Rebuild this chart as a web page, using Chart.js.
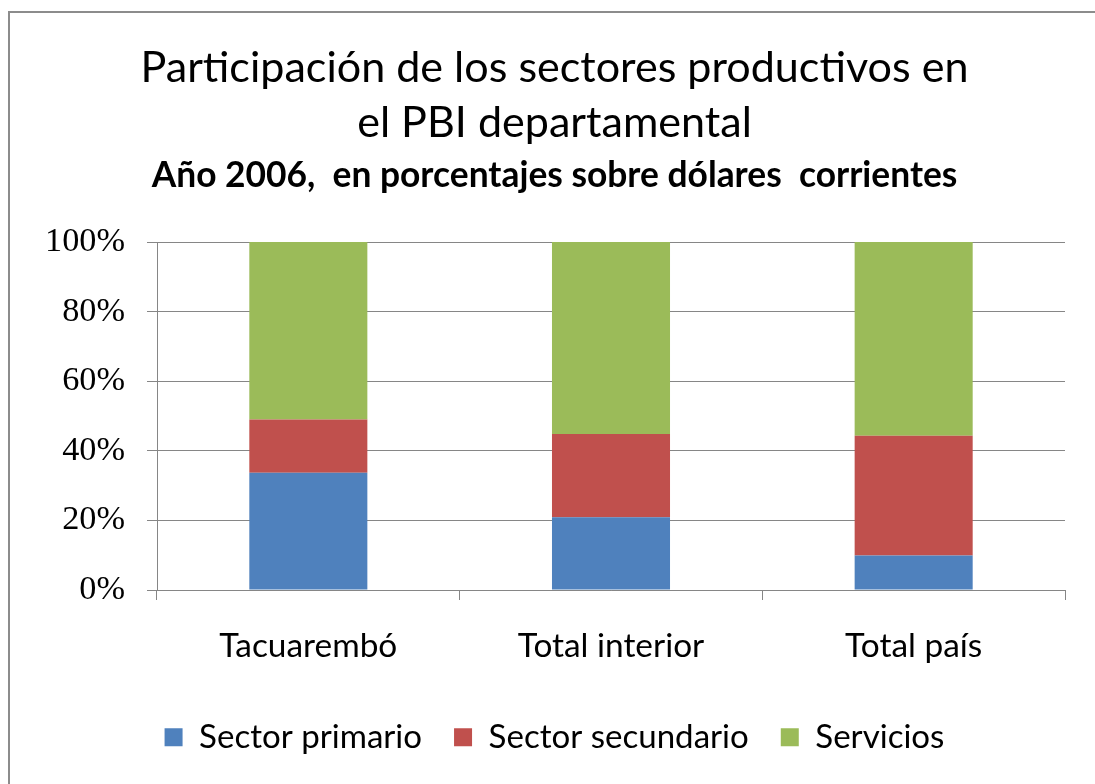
<!DOCTYPE html>
<html>
<head>
<meta charset="utf-8">
<script src="https://cdn.jsdelivr.net/npm/chart.js@4.4.1/dist/chart.umd.min.js"></script>
<style>
  html, body { margin: 0; padding: 0; background: #ffffff; }
  canvas { display: block; }
</style>
</head>
<body>
<canvas id="c" width="1095" height="784"></canvas>
<script>
// ---- data ----
const categories = ['Tacuarembó', 'Total interior', 'Total país'];
const seriesNames = ['Sector primario', 'Sector secundario', 'Servicios'];
const primario = [33.7, 20.9, 9.9];
const secundario = [15.3, 23.9, 34.4];
const servicios = [51.0, 55.2, 55.7];
const yTicks = [0, 20, 40, 60, 80, 100];
const titleLines = ['Participación de los sectores productivos en', 'el PBI departamental'];
const subtitleText = 'Año 2006,  en porcentajes sobre dólares  corrientes';

// ---- styling helpers ----
const FAM = 'Lato, "Open Sans", sans-serif';
const SERIF = '"Liberation Serif", "DejaVu Serif", serif';
const mctx = document.createElement('canvas').getContext('2d');
function fitSize(text, weight, family, target) {
  mctx.font = weight + ' 100px ' + family;
  return 100 * target / mctx.measureText(text).width;
}
function baseOff(size, weight, family) {
  mctx.font = weight + ' ' + size + 'px ' + family;
  mctx.textBaseline = 'middle';
  return mctx.measureText('H').actualBoundingBoxDescent;
}

const PLOT_TOP = 242, PLOT_BOTTOM = 590, PLOT_LEFT = 157, LAYOUT_LEFT = 14, RIGHT_GAP = 30;

// title
const titleSize = fitSize(titleLines[0], 'normal', FAM, 828);
const titleLH = 55;
const titleOff = baseOff(titleSize, 'normal', FAM);
const titlePadTop = (82 - titleOff) - titleLH / 2;
// subtitle
const subSize = fitSize(subtitleText, 'bold', FAM, 806);
const subLH = subSize * 1.2;
const subOff = baseOff(subSize, 'bold', FAM);
const subTop = (187 - subOff) - subLH / 2;
const titlePadBottom = subTop - (titlePadTop + 2 * titleLH);
const subPadBottom = PLOT_TOP - (subTop + subLH);
// legend
const legSize = fitSize('Sector primario', 'normal', FAM, 223);
const legPad = 32;
const legOff = baseOff(legSize, 'normal', FAM);
const legTop = (748 - legOff) - legPad - legSize / 2;
const legH = legSize + legPad + 10;
const layoutBottom = 784 - (legTop + legH);
// x labels
const xSize = fitSize('Tacuarembó', 'normal', FAM, 178);
const xOff = baseOff(xSize, 'normal', FAM);
const xPad = (657 - xOff) - PLOT_BOTTOM - 10 - xSize * 1.2 / 2;
const xAxisHeight = legTop - PLOT_BOTTOM;
// y labels
const ySize = fitSize('100%', 'normal', SERIF, 80);

const GRID = '#868686';

const framePlugin = {
  id: 'frame',
  beforeDraw(chart) {
    const ctx = chart.ctx;
    ctx.save();
    ctx.fillStyle = '#ffffff';
    ctx.fillRect(0, 0, chart.width, chart.height);
    ctx.strokeStyle = '#8c8c8c';
    ctx.lineWidth = 2;
    ctx.beginPath();
    ctx.moveTo(9, chart.height);
    ctx.lineTo(9, 12);
    ctx.lineTo(chart.width, 12);
    ctx.stroke();
    ctx.restore();
  }
};

new Chart(document.getElementById('c'), {
  type: 'bar',
  data: {
    labels: categories,
    datasets: [
      { label: seriesNames[0], data: primario, backgroundColor: '#4F81BD' },
      { label: seriesNames[1], data: secundario, backgroundColor: '#C0504D' },
      { label: seriesNames[2], data: servicios, backgroundColor: '#9BBB59' }
    ]
  },
  options: {
    responsive: false,
    animation: false,
    devicePixelRatio: 1,
    datasets: { bar: { categoryPercentage: 1.0, barPercentage: 0.39, borderWidth: 0 } },
    layout: { padding: { top: 0, left: LAYOUT_LEFT, right: 0, bottom: layoutBottom } },
    scales: {
      x: {
        stacked: true,
        grid: { display: true, drawOnChartArea: false, drawTicks: true, tickLength: 10, offset: true, color: GRID, lineWidth: 1 },
        border: { display: true, color: GRID, width: 1 },
        ticks: { color: '#000000', font: { family: FAM, size: xSize }, padding: xPad, maxRotation: 0, autoSkip: false },
        afterFit(scale) { scale.height = xAxisHeight; }
      },
      y: {
        stacked: true,
        min: 0, max: 100,
        afterBuildTicks(scale) { scale.ticks = yTicks.map(v => ({ value: v })); },
        grid: { color: GRID, lineWidth: 1, tickLength: 10, drawTicks: true },
        border: { display: true, color: GRID, width: 1 },
        ticks: { color: '#000000', font: { family: SERIF, size: ySize }, padding: 22, callback: v => v + '%' },
        afterFit(scale) { scale.width = PLOT_LEFT - LAYOUT_LEFT; }
      },
      yr: {
        position: 'right',
        display: true,
        grid: { display: false, drawTicks: false },
        border: { display: false },
        ticks: { display: false },
        afterFit(scale) { scale.width = RIGHT_GAP; }
      }
    },
    plugins: {
      title: {
        display: true,
        text: titleLines,
        color: '#000000',
        font: { family: FAM, size: titleSize, weight: 'normal', lineHeight: titleLH + 'px' },
        padding: { top: titlePadTop, bottom: titlePadBottom }
      },
      subtitle: {
        display: true,
        text: subtitleText,
        color: '#000000',
        font: { family: FAM, size: subSize, weight: 'bold', lineHeight: 1.2 },
        padding: { top: 0, bottom: subPadBottom }
      },
      legend: {
        display: true,
        position: 'bottom',
        labels: {
          color: '#000000',
          font: { family: FAM, size: legSize },
          boxWidth: 18, boxHeight: 18,
          padding: legPad
        }
      },
      tooltip: { enabled: false }
    }
  },
  plugins: [framePlugin]
});
</script>
</body>
</html>
